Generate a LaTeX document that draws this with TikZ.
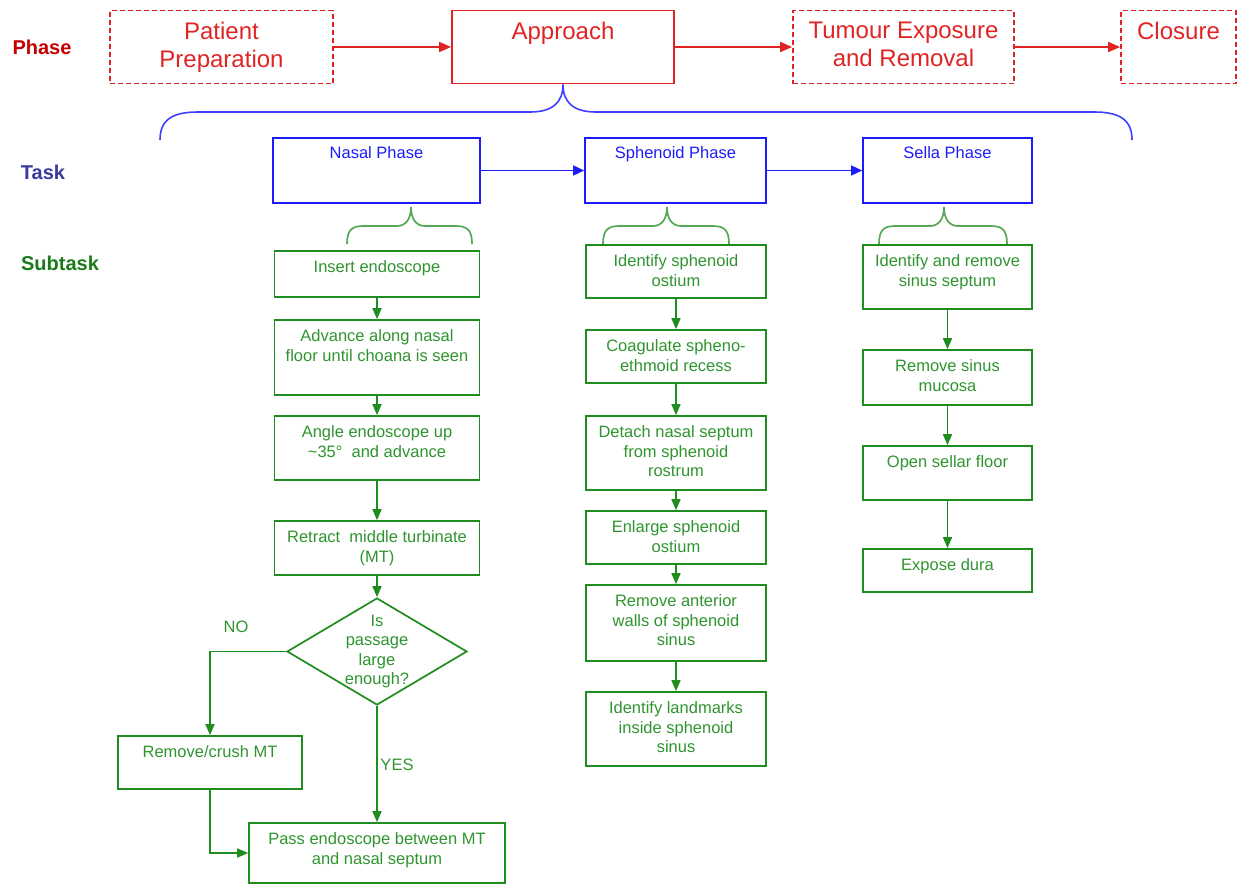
\documentclass[tikz,border=0pt]{standalone}
\usepackage{fontspec}
\setmainfont{Liberation Sans}
\usetikzlibrary{arrows.meta, positioning, shapes.geometric, calc}
\definecolor{phaseRed}{HTML}{E02424}
\definecolor{phaseDark}{HTML}{C40000}
\definecolor{taskBlue}{HTML}{1C1CFA}
\definecolor{taskDark}{HTML}{3A3A9A}
\definecolor{subGreen}{HTML}{1E8C1E}
\definecolor{subText}{HTML}{2F942F}
\definecolor{subDark}{HTML}{1A7A1A}
\definecolor{braceBlue}{HTML}{3F3FFF}
\definecolor{braceGreen}{HTML}{55A855}
\tikzset{
  arrowR/.style={-{Triangle[length=12pt, width=10pt]}, phaseRed, line width=1.8pt},
  arrowB/.style={-{Triangle[length=11pt, width=10pt]}, taskBlue, line width=1.6pt},
  arrowG/.style={-{Triangle[length=11pt, width=9pt]}, subGreen, line width=1.6pt},
  boxR/.style={rectangle, draw=phaseRed, line width=1.8pt, minimum height=73pt, inner sep=0pt},
  boxRd/.style={boxR, dash pattern=on 5pt off 3pt},
  boxB/.style={rectangle, draw=taskBlue, line width=1.7pt, minimum height=65pt, inner sep=0pt},
  boxG/.style={rectangle, draw=subGreen, line width=1.7pt, inner sep=0pt},
  decG/.style={diamond, draw=subGreen, line width=1.7pt, inner sep=0pt,
               minimum width=180pt, minimum height=107pt},
  braceB/.style={braceBlue, line width=1.6pt},
  braceG/.style={braceGreen, line width=1.7pt},
  txtR/.style={text=phaseRed, align=center, inner sep=3pt, font=\fontsize{24}{28}\selectfont},
  txtB/.style={text=taskBlue, align=center, inner sep=3pt, font=\fontsize{16.5}{19.3}\selectfont},
  txtG/.style={text=subText, align=center, inner sep=3pt, font=\fontsize{16.5}{19.3}\selectfont},
  topR/.style={txtR, anchor=north, yshift=-9.5pt},
  topB/.style={txtB, anchor=north, yshift=-6pt},
  topG/.style={txtG, anchor=north, yshift=-7.5pt},
  rowLabel/.style={font=\bfseries\fontsize{20}{24}\selectfont},
}
\begin{document}
\begin{tikzpicture}[x=1pt, y=-1pt]
  \useasboundingbox (0,0) rectangle (1238,884);
  \node[rowLabel, text=phaseDark] (lblPhase) at (42,47) {Phase};
  \node[rowLabel, text=taskDark] (lblTask) at (43,172) {Task};
  \node[rowLabel, text=subDark] (lblSub) at (60,263) {Subtask};

  \node[boxRd, minimum width=223pt, label={[topR]north:{Patient\\Preparation}}] (prep) at (221.5,47) {};
  \node[boxR, minimum width=222pt, label={[topR]north:Approach}] (appr) at (563,47) {};
  \node[boxRd, minimum width=221pt, label={[topR]north:{Tumour Exposure\\and Removal}}] (tum) at (903.5,47) {};
  \node[boxRd, minimum width=115pt, label={[topR]north:Closure}] (clos) at (1178.5,47) {};
  \draw[arrowR] (prep) -- (appr);
  \draw[arrowR] (appr) -- (tum);
  \draw[arrowR] (tum) -- (clos);

  \coordinate (braceL) at (160,140);
  \coordinate (braceR) at (1132,140);
  \draw[braceB] (braceL) .. controls (160,120) and (172,112) .. (198,112) -- (530,112)
    .. controls (553,112) and (563,102) .. (appr.south)
    .. controls (563,102) and (573,112) .. (596,112) -- (1094,112)
    .. controls (1120,112) and (1132,120) .. (braceR);

  \node[boxB, minimum width=207pt, label={[topB]north:Nasal Phase}] (nas) at (376.5,170.5) {};
  \node[boxB, minimum width=181pt, label={[topB]north:Sphenoid Phase}] (sph) at (675.5,170.5) {};
  \node[boxB, minimum width=169pt, label={[topB]north:Sella Phase}] (sel) at (947.5,170.5) {};
  \draw[arrowB] (nas) -- (sph);
  \draw[arrowB] (sph) -- (sel);

  \foreach \l/\t/\r in {347/411/472, 603/667/729, 879/944/1007}
    \draw[braceG] (\l,244) .. controls (\l,231) and (\l+4,226) .. (\l+16,226) -- (\t-14,226)
      .. controls (\t-6,226) and (\t,220) .. (\t,207)
      .. controls (\t,220) and (\t+6,226) .. (\t+14,226) -- (\r-16,226)
      .. controls (\r-4,226) and (\r,231) .. (\r,244);

  \node[boxG, minimum width=205pt, minimum height=46pt,
        label={[topG]north:Insert endoscope}] (ins) at (377,274) {};
  \node[boxG, minimum width=205pt, minimum height=75pt,
        label={[topG]north:{Advance along nasal\\floor until choana is seen}}] (adv) at (377,357.5) {};
  \node[boxG, minimum width=205pt, minimum height=64pt,
        label={[topG]north:{Angle endoscope up\\\textasciitilde35\textdegree\ \ and advance}}] (ang) at (377,448) {};
  \node[boxG, minimum width=205pt, minimum height=54pt,
        label={[topG]north:{Retract\ \ middle turbinate\\(MT)}}] (ret) at (377,548) {};
  \node[decG, label={[txtG, anchor=center]center:{Is\\passage\\large\\enough?}}] (dec) at (377,651.5) {};
  \node[boxG, minimum width=184pt, minimum height=53pt,
        label={[topG]north:Remove/crush MT}] (rem) at (210,762.5) {};
  \node[boxG, minimum width=256pt, minimum height=60pt,
        label={[topG]north:{Pass endoscope between MT\\and nasal septum}}] (pass) at (377,853) {};
  \node[txtG] (no) at (236,627) {NO};
  \node[txtG] (yes) at (397,765) {YES};
  \draw[arrowG] (ins) -- (adv);
  \draw[arrowG] (adv) -- (ang);
  \draw[arrowG] (ang) -- (ret);
  \draw[arrowG] (ret) -- (dec);
  \draw[arrowG] (dec.west) -| (rem.north);
  \draw[arrowG] (dec.south) -- (pass.north);
  \draw[arrowG] (rem.south) |- (pass.west);

  \node[boxG, minimum width=180pt, minimum height=53pt,
        label={[topG]north:{Identify sphenoid\\ostium}}] (ost) at (676,271.5) {};
  \node[boxG, minimum width=180pt, minimum height=53pt,
        label={[topG]north:{Coagulate spheno-\\ethmoid recess}}] (coa) at (676,356.5) {};
  \node[boxG, minimum width=180pt, minimum height=74pt,
        label={[topG]north:{Detach nasal septum\\from sphenoid\\rostrum}}] (det) at (676,453) {};
  \node[boxG, minimum width=180pt, minimum height=53pt,
        label={[topG]north:{Enlarge sphenoid\\ostium}}] (enl) at (676,537.5) {};
  \node[boxG, minimum width=180pt, minimum height=76pt,
        label={[topG]north:{Remove anterior\\walls of sphenoid\\sinus}}] (ant) at (676,623) {};
  \node[boxG, minimum width=180pt, minimum height=74pt,
        label={[topG]north:{Identify landmarks\\inside sphenoid\\sinus}}] (lmk) at (676,729) {};
  \foreach \a/\b in {ost/coa, coa/det, det/enl, enl/ant, ant/lmk}
    \draw[arrowG] (\a) -- (\b);

  \node[boxG, minimum width=169pt, minimum height=64pt,
        label={[topG]north:{Identify and remove\\sinus septum}}] (sep) at (947.5,277) {};
  \node[boxG, minimum width=169pt, minimum height=55pt,
        label={[topG]north:{Remove sinus\\mucosa}}] (muc) at (947.5,377.5) {};
  \node[boxG, minimum width=169pt, minimum height=54pt,
        label={[topG]north:Open sellar floor}] (flo) at (947.5,473) {};
  \node[boxG, minimum width=169pt, minimum height=43pt,
        label={[topG]north:Expose dura}] (dur) at (947.5,570.5) {};
  \foreach \a/\b in {sep/muc, muc/flo, flo/dur}
    \draw[arrowG] (\a) -- (\b);
\end{tikzpicture}
\end{document}
